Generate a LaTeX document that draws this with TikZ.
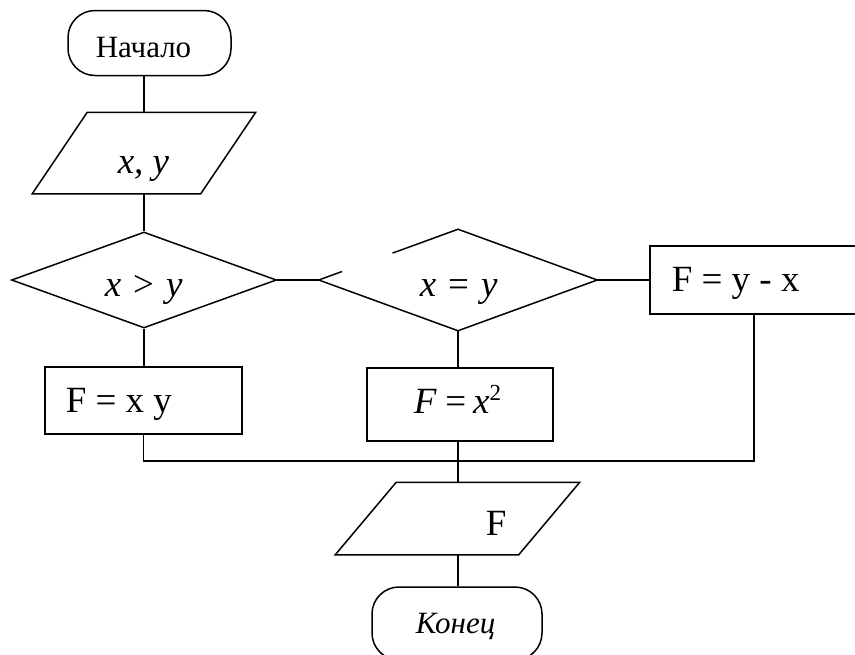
\documentclass[tikz,border=0pt]{standalone}
\usepackage{fontspec}
\IfFontExistsTF{LiberationSerif-Regular.ttf}{%
  \setmainfont{LiberationSerif}[Extension=.ttf,UprightFont=*-Regular,ItalicFont=*-Italic,BoldFont=*-Bold,BoldItalicFont=*-BoldItalic]}{%
  \setmainfont{Liberation Serif}}
\usetikzlibrary{shapes.geometric,calc}
\begin{document}
\begin{tikzpicture}[x=1pt,y=-1pt,
  line width=1.5pt,
  term/.style={draw,rectangle,rounded corners=27pt,inner sep=0pt},
  procbox/.style={draw,rectangle,inner sep=0pt},
  dec/.style={diamond,inner sep=0pt},
  para/.style={rectangle,inner sep=0pt},
  txt/.style={inner sep=0pt,anchor=base west},
  big/.style={font=\fontsize{37}{40}\selectfont},
  mid/.style={font=\fontsize{31}{34}\selectfont}]
\useasboundingbox (0,0) rectangle (855,654);
\clip (0,0) rectangle (855,654);
% shapes
\node[term,minimum width=163pt,minimum height=65pt] (start) at (149.5,43) {};
\node[para,minimum width=167pt,minimum height=80pt] (p1) at (144,153) {};
\draw ([xshift=27.5pt]p1.north west) -- ([xshift=27.5pt]p1.north east)
  -- ([xshift=-27.5pt]p1.south east) -- ([xshift=-27.5pt]p1.south west) -- cycle;
\node[dec,draw,minimum width=265pt,minimum height=96pt] (d1) at (144,280) {};
\node[dec,minimum width=277pt,minimum height=100pt] (d2) at (458,280) {};
\draw (d2.west) -- ($(d2.west)!0.167!(d2.north)$);
\draw ($(d2.west)!0.53!(d2.north)$) -- (d2.north) -- (d2.east) -- (d2.south) -- (d2.west);
\node[procbox,minimum width=208pt,minimum height=68pt] (r3) at (754,280) {};
\node[procbox,minimum width=197pt,minimum height=67pt] (r1) at (143.5,400.5) {};
\node[procbox,minimum width=186pt,minimum height=73pt] (r2) at (460,404.5) {};
\node[para,minimum width=182pt,minimum height=71pt] (p2) at (457.5,518.5) {};
\draw ([xshift=30.5pt]p2.north west) -- ([xshift=30.5pt]p2.north east)
  -- ([xshift=-30.5pt]p2.south east) -- ([xshift=-30.5pt]p2.south west) -- cycle;
\node[term,minimum width=170pt,minimum height=73pt] (stop) at (457,623.5) {};
% texts
\node[txt,mid] (tstart) at (95,57) {Начало};
\node[txt,big] (tin) at (117,173) {\itshape x, y};
\node[txt,big] (tc1) at (104,296) {\itshape x\hspace{12pt}\upshape >\hspace{12pt}\itshape y};
\node[txt,big] (tc2) at (419,296) {\itshape x\hspace{12pt}\upshape =\hspace{12pt}\itshape y};
\node[txt,big] (tr3) at (671,291) {F = y - x};
\node[txt,big] (tr1) at (65,412) {F = x y};
\node[txt,big] (tr2) at (413,413) {\itshape F\hspace{9pt}\upshape =\hspace{7pt}\itshape x\upshape\raisebox{13pt}{\fontsize{23}{23}\selectfont 2}};
\node[txt,big] (tout) at (485,535) {F};
\node[txt,mid] (tstop) at (415,633) {\itshape Конец};
% connectors
\coordinate (m1) at (r1.south |- 0,461);
\coordinate (m3) at (r3.south |- 0,461);
\draw (p1.north |- start.south) -- (p1.north);
\draw (p1.south) -- (d1.north);
\draw (d1.south) -- (d1.south |- r1.north);
\draw (d1.east) -- (d2.west);
\draw (d2.east) -- (r3.west);
\draw (d2.south) -- (d2.south |- r2.north);
\draw (d2.south |- r2.south) -- (d2.south |- p2.north);
\draw (r1.south) -- (m1) -- (m3) -- (r3.south);
\draw (d2.south |- p2.south) -- (d2.south |- stop.north);
\end{tikzpicture}
\end{document}
